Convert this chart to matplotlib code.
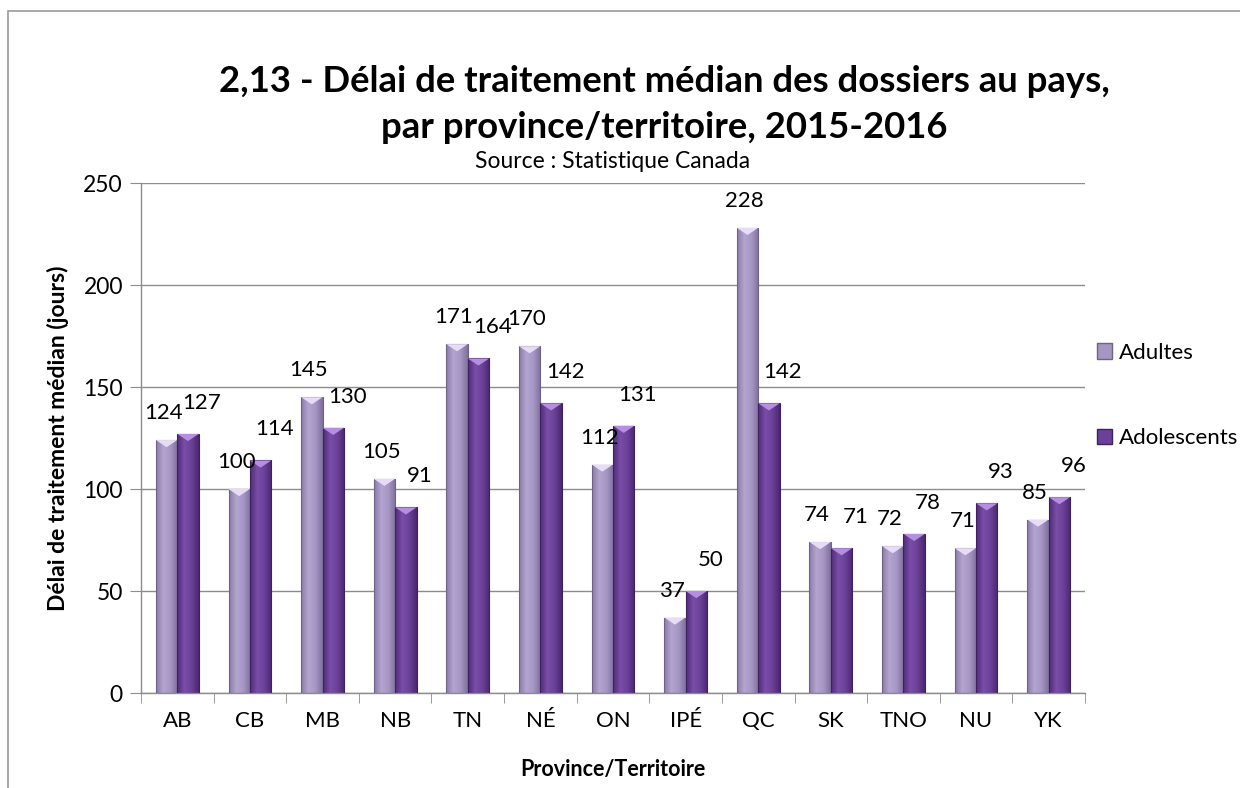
import matplotlib
matplotlib.use("Agg")
import matplotlib.pyplot as plt
import numpy as np
from matplotlib.patches import Rectangle, Polygon
from matplotlib.colors import LinearSegmentedColormap

categories = ["AB", "CB", "MB", "NB", "TN", "NÉ", "ON", "IPÉ", "QC", "SK", "TNO", "NU", "YK"]
adultes = [124, 100, 145, 105, 171, 170, 112, 37, 228, 74, 72, 71, 85]
adolescents = [127, 114, 130, 91, 164, 142, 131, 50, 142, 71, 78, 93, 96]
series_names = ["Adultes", "Adolescents"]
yticks = [0, 50, 100, 150, 200, 250]

plt.rcParams['font.family'] = ['Lato', 'DejaVu Sans']

W, H = 1240, 788
fig = plt.figure(figsize=(W / 100, H / 100), dpi=100)
ax = fig.add_axes([141 / W, 1 - 693 / H, (1085 - 141) / W, (693 - 183) / H])

x = np.arange(len(categories))
bw = 0.295

light_cmap = LinearSegmentedColormap.from_list("l", ["#8a7aa8", "#b3a5cf", "#a596c4", "#7e6f9c"])
dark_cmap = LinearSegmentedColormap.from_list("d", ["#4f2b78", "#7a4ea8", "#6a4098", "#4a2870"])
grad = np.linspace(0, 1, 64).reshape(1, -1)

def draw_bars(xs, vals, cmap, top_col, edge):
    bars = ax.bar(xs, vals, width=bw, color="none", edgecolor=edge, linewidth=0.8, zorder=3)
    for b in bars:
        x0, w, h = b.get_x(), b.get_width(), b.get_height()
        im = ax.imshow(grad, cmap=cmap, aspect="auto", extent=(x0, x0 + w, 0, h), zorder=2)
        im.set_clip_path(b)
        th = 3.5
        tri = Polygon([[x0, h], [x0 + w, h], [x0 + w / 2, h - th]], closed=True,
                      facecolor=top_col, edgecolor="none", zorder=3)
        ax.add_patch(tri)
    return bars

b1 = draw_bars(x - bw / 2, adultes, light_cmap, "#e6dcf5", "#6e6288")
b2 = draw_bars(x + bw / 2, adolescents, dark_cmap, "#b58ee0", "#3e2260")

for xi, v in zip(x, adultes):
    ax.annotate(str(v), (xi - bw / 2, v), xytext=(-3, 27), textcoords="offset pixels",
                ha="center", va="center", fontsize=16, color="black", zorder=5)
for xi, v in zip(x, adolescents):
    ax.annotate(str(v), (xi + bw / 2, v), xytext=(14, 31), textcoords="offset pixels",
                ha="center", va="center", fontsize=16, color="black", zorder=5)

ax.set_xlim(-0.5, len(categories) - 0.5)
ax.set_ylim(0, 250)
ax.set_yticks(yticks)
ax.set_yticklabels([str(t) for t in yticks], fontsize=16.5)
ax.yaxis.grid(True, color="#8c8c8c", linewidth=1.0, zorder=0)
ax.set_axisbelow(True)
ax.set_xticks(x)
ax.set_xticklabels(categories, fontsize=16)
ax.set_xticks(np.arange(-0.5, len(categories)), minor=True)
ax.tick_params(axis="x", which="major", length=0, pad=13)
ax.tick_params(axis="x", which="minor", length=7, color="#8c8c8c", direction="out")
ax.tick_params(axis="y", length=8, color="#8c8c8c", pad=5)
for s in ["top", "right"]:
    ax.spines[s].set_visible(False)
for s in ["left", "bottom"]:
    ax.spines[s].set_color("#8c8c8c")
    ax.spines[s].set_linewidth(1.0)

ax.set_ylabel("Délai de traitement médian (jours)", fontsize=16.5, fontweight="bold", labelpad=10)
ax.set_xlabel("Province/Territoire", fontsize=15.5, fontweight="bold", labelpad=20)

fig.text(664 / W, 1 - 82 / H, "2,13 - Délai de traitement médian des dossiers au pays,",
         ha="center", va="center", fontsize=26.3, fontweight="bold")
fig.text(664 / W, 1 - 127 / H, "par province/territoire, 2015-2016",
         ha="center", va="center", fontsize=26.3, fontweight="bold")
fig.text(613 / W, 1 - 161 / H, "Source : Statistique Canada", ha="center", va="center", fontsize=16.5)

h1 = Rectangle((0, 0), 1, 1, facecolor="#a596c4", edgecolor="#6e6288")
h2 = Rectangle((0, 0), 1, 1, facecolor="#6a4098", edgecolor="#3e2260")
fig.legend([h1, h2], series_names, loc="upper left", bbox_to_anchor=(1088 / W, 1 - 334 / H),
           frameon=False, fontsize=16, labelspacing=2.95, handlelength=0.7, handleheight=0.7,
           handletextpad=0.3, borderaxespad=0)

fig.add_artist(Rectangle((8 / W, -0.1), 1.2, 1 - 11 / H + 0.1, transform=fig.transFigure,
                         fill=False, edgecolor="#9a9a9a", linewidth=1.2))

fig.savefig("out.png", dpi=100)
